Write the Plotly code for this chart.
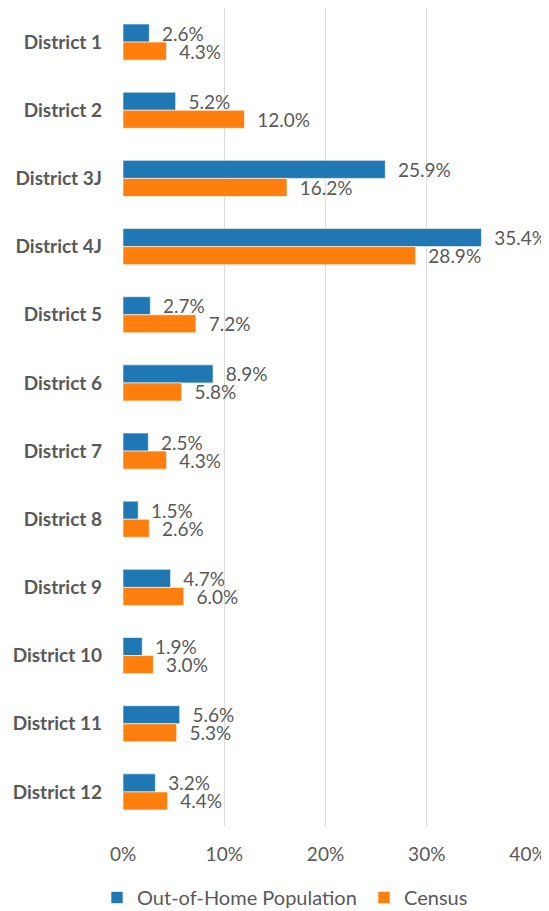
import plotly.graph_objects as go

districts = ["District 1", "District 2", "District 3J", "District 4J", "District 5",
             "District 6", "District 7", "District 8", "District 9", "District 10",
             "District 11", "District 12"]
out_of_home = [2.6, 5.2, 25.9, 35.4, 2.7, 8.9, 2.5, 1.5, 4.7, 1.9, 5.6, 3.2]
census = [4.3, 12.0, 16.2, 28.9, 7.2, 5.8, 4.3, 2.6, 6.0, 3.0, 5.3, 4.4]
x_ticks = [0, 10, 20, 30, 40]
x_tick_labels = ["0%", "10%", "20%", "30%", "40%"]

FONT = "Lato"
GRAY = "#595959"

# page has an 8px body margin, so the figure is 8px smaller than the window
W, H = 541, 903

fig = go.Figure()
for name, vals, color, leg in [("Out-of-Home Population", out_of_home, "#1F77B4", "legend"),
                               ("Census", census, "#FF7F0E", "legend2")]:
    fig.add_trace(go.Bar(
        y=districts, x=vals, name=name, orientation="h", legend=leg,
        marker=dict(color=color, line=dict(color="rgba(255,255,255,0.6)", width=1)),
        texttemplate="  %{x:.1f}%", textposition="outside",
        textfont=dict(family=FONT, size=19, color=GRAY),
        constraintext="none", cliponaxis=False,
    ))

legend_common = dict(orientation="h", xref="container", yref="container",
                     xanchor="left", y=33 / H, yanchor="top",
                     font=dict(family=FONT, size=20, color=GRAY),
                     bgcolor="rgba(0,0,0,0)")

fig.update_layout(
    width=W, height=H,
    margin=dict(l=115, r=21, t=0, b=85, autoexpand=False),
    barmode="group", bargap=0.47, bargroupgap=0,
    plot_bgcolor="white", paper_bgcolor="white",
    font=dict(family=FONT, color=GRAY),
    showlegend=True,
    legend=dict(x=89 / W, **legend_common),
    legend2=dict(x=356 / W, **legend_common),
    xaxis=dict(range=[0, 40], tickvals=x_ticks, ticktext=x_tick_labels,
               showgrid=True, gridcolor="#d9d9d9", gridwidth=1,
               zeroline=False, showline=False, ticks="", automargin=False,
               tickfont=dict(family=FONT, size=19, color=GRAY),
               ticklabelstandoff=15),
    yaxis=dict(categoryorder="array", categoryarray=districts, autorange="reversed",
               showgrid=False, zeroline=False, showline=False, ticks="", automargin=False,
               tickfont=dict(family=FONT, size=19, color=GRAY, weight="bold"),
               ticklabelstandoff=20),
)

fig.write_html("out.html")
